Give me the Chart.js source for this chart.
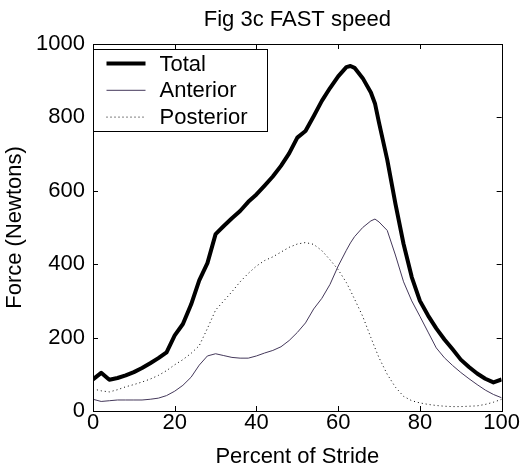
<!DOCTYPE html>
<html>
<head>
<meta charset="utf-8">
<script src="https://cdn.jsdelivr.net/npm/chart.js@4/dist/chart.umd.min.js"></script>
<style>
  body { margin: 0; background: #fff; }
</style>
</head>
<body>
<canvas id="chart" width="521" height="473"></canvas>
<script>
const FONT = "'Liberation Sans', Arial, sans-serif";

// percent of stride
const stride = [
  0, 2, 4, 6, 8, 10, 12, 14, 16, 18, 20, 22, 24, 26, 28, 30, 32, 34, 36, 38,
  40, 42, 44, 46, 48, 50, 52, 54, 56, 58, 60, 62, 63, 64, 66, 68, 69, 70, 72, 74,
  76, 78, 80, 82, 84, 86, 88, 90, 92, 94, 96, 98, 100,
];

const total = [
  86, 104, 85, 90, 97, 106, 117, 130, 144, 160, 206, 237, 290, 356, 403, 482, 504, 525, 545, 570,
  590, 614, 639, 668, 702, 745, 763, 803, 845, 880, 912, 937, 940, 935, 907, 868, 838, 785, 685, 565,
  455, 365, 300, 260, 225, 195, 168, 140, 120, 102, 88, 78, 86,
];

const anterior = [
  32, 26, 28, 30, 30, 30, 30, 32, 35, 42, 54, 70, 92, 125, 150, 156, 151, 146, 144, 144,
  150, 158, 165, 175, 192, 214, 240, 278, 307, 345, 395, 438, 458, 475, 500, 518, 523, 515, 492, 425,
  352, 300, 258, 215, 172, 145, 124, 105, 88, 72, 57, 45, 36,
];

const posterior = [
  60, 55, 52, 58, 66, 72, 79, 87, 97, 110, 126, 140, 157, 178, 225, 275, 300, 325, 352, 375,
  395, 410, 420, 433, 446, 455, 459, 454, 437, 412, 385, 350, 328, 305, 258, 200, 172, 145, 100, 65,
  40, 28, 22, 18, 15, 13, 12, 12, 13, 14, 18, 24, 32,
];

const xTicks = [0, 20, 40, 60, 80, 100];
const yTicks = [0, 200, 400, 600, 800, 1000];

const toPoints = (values) => stride.map((x, i) => ({ x: x, y: values[i] }));

// matlab style box with inward ticks on all four sides
const boxPlugin = {
  id: "box",
  afterDatasetsDraw(chart) {
    const { ctx, chartArea: a, scales } = chart;
    const len = 5;
    ctx.save();
    ctx.strokeStyle = "#000";
    ctx.lineWidth = 1;
    ctx.beginPath();
    xTicks.forEach((t) => {
      const px = Math.round(scales.x.getPixelForValue(t)) + 0.5;
      ctx.moveTo(px, a.bottom);
      ctx.lineTo(px, a.bottom - len);
      ctx.moveTo(px, a.top);
      ctx.lineTo(px, a.top + len);
    });
    yTicks.forEach((t) => {
      const py = Math.round(scales.y.getPixelForValue(t)) + 0.5;
      ctx.moveTo(a.left, py);
      ctx.lineTo(a.left + len, py);
      ctx.moveTo(a.right, py);
      ctx.lineTo(a.right - len, py);
    });
    ctx.stroke();
    ctx.strokeRect(
      Math.round(a.left) + 0.5,
      Math.round(a.top) + 0.5,
      Math.round(a.right - a.left),
      Math.round(a.bottom - a.top)
    );
    ctx.restore();
  },
};

// legend box inside the axes, top left
const legendPlugin = {
  id: "boxLegend",
  afterDraw(chart) {
    const { ctx, chartArea: a } = chart;
    const x0 = Math.round(a.left) + 0.5;
    const y0 = Math.round(a.top) + 5.5;
    const w = 174;
    const h = 82;
    ctx.save();
    ctx.fillStyle = "#fff";
    ctx.fillRect(x0, y0, w, h);
    ctx.strokeStyle = "#000";
    ctx.lineWidth = 1;
    ctx.strokeRect(x0, y0, w, h);
    ctx.font = "22px " + FONT;
    ctx.textBaseline = "middle";
    chart.data.datasets.forEach((ds, i) => {
      const y = y0 + 14 + i * 26.8;
      ctx.beginPath();
      ctx.strokeStyle = ds.borderColor;
      ctx.lineWidth = ds.borderWidth;
      ctx.setLineDash(ds.borderDash || []);
      ctx.moveTo(x0 + 13, y);
      ctx.lineTo(x0 + 52, y);
      ctx.stroke();
      ctx.setLineDash([]);
      ctx.fillStyle = "#000";
      ctx.fillText(ds.label, x0 + 66, y + 1);
    });
    ctx.restore();
  },
};

const ctx = document.getElementById("chart");
const chart = new Chart(ctx, {
  type: "line",
  data: {
    datasets: [
      {
        label: "Total",
        data: toPoints(total),
        borderColor: "#000",
        borderWidth: 4,
      },
      {
        label: "Anterior",
        data: toPoints(anterior),
        borderColor: "#44385a",
        borderWidth: 1,
      },
      {
        label: "Posterior",
        data: toPoints(posterior),
        borderColor: "#000",
        borderWidth: 1,
        borderDash: [1, 3],
      },
    ],
  },
  options: {
    responsive: false,
    animation: false,
    devicePixelRatio: 1,
    layout: { padding: { left: 0, right: 19, top: 0, bottom: 0 } },
    elements: {
      point: { radius: 0 },
      line: { tension: 0, borderJoinStyle: "round" },
    },
    plugins: {
      legend: { display: false },
      tooltip: { enabled: false },
      title: {
        display: true,
        fullSize: false,
        text: "Fig 3c FAST speed",
        color: "#000",
        font: { family: FONT, size: 22, weight: "normal", lineHeight: 1.2 },
        padding: { top: 7, bottom: 10.6 },
      },
    },
    scales: {
      x: {
        type: "linear",
        min: 0,
        max: 100,
        afterFit: (scale) => {
          scale.height = 62;
        },
        afterBuildTicks: (scale) => {
          scale.ticks = xTicks.map((v) => ({ value: v }));
        },
        grid: { display: false, drawTicks: false },
        border: { display: false },
        ticks: {
          color: "#000",
          padding: 1,
          maxRotation: 0,
          callback: (v) => String(v),
          font: { family: FONT, size: 22, lineHeight: 1 },
        },
        title: {
          display: true,
          text: "Percent of Stride",
          color: "#000",
          font: { family: FONT, size: 22, lineHeight: 1.2 },
          padding: { top: 0, bottom: 3 },
        },
      },
      y: {
        min: 0,
        max: 1000,
        afterFit: (scale) => {
          scale.width = 93;
        },
        afterBuildTicks: (scale) => {
          scale.ticks = yTicks.map((v) => ({ value: v }));
        },
        grid: { display: false, drawTicks: false },
        border: { display: false },
        ticks: {
          color: "#000",
          padding: 8,
          callback: (v) => String(v),
          font: { family: FONT, size: 22 },
        },
        title: {
          display: true,
          text: "Force (Newtons)",
          color: "#000",
          font: { family: FONT, size: 22, lineHeight: 1.2 },
          padding: { top: 2, bottom: 0 },
        },
      },
    },
  },
  plugins: [boxPlugin, legendPlugin],
});
</script>
</body>
</html>
